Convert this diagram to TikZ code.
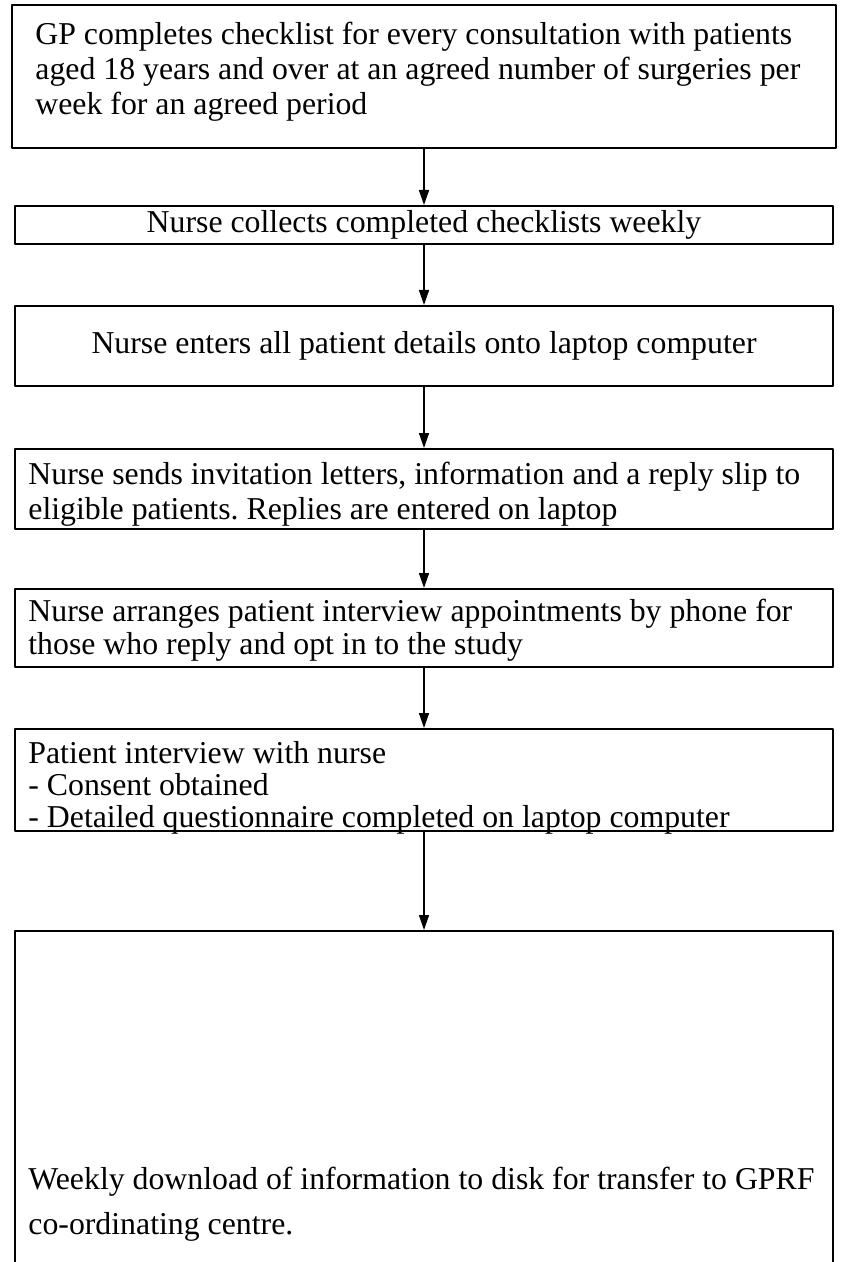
\documentclass[tikz,border=0pt]{standalone}
\usepackage{fontspec}
\setmainfont{Liberation Serif}
\usetikzlibrary{arrows.meta}
\usetikzlibrary{positioning}
\frenchspacing

\tikzset{
  stepbox/.style={draw,rectangle,line width=1pt,minimum width=409pt,inner sep=0pt,
    font=\fontsize{15.9}{17.5}\selectfont},
  steptext/.style={anchor=north west,inner sep=0pt,align=left,
    font=\fontsize{15.9}{17.5}\selectfont},
  flow/.style={->,line width=0.75pt},
}

\begin{document}
\begin{tikzpicture}[line cap=round,line join=round,>={Triangle[length=7.5pt,width=5pt]},x=0.5pt,y=-0.5pt]
\useasboundingbox (0,0) rectangle (845,1262);
\clip (0,0) rectangle (845,1262);
% the boxes
\node[stepbox,anchor=north west,minimum width=412pt,minimum height=71.5pt] (gp) at (11,4) {};
\node[stepbox,minimum height=19pt,below=28pt of gp] (collect)
  {Nurse collects completed checklists weekly};
\node[stepbox,minimum height=40pt,below=30pt of collect] (enter)
  {Nurse enters all patient details onto laptop computer};
\node[stepbox,minimum height=40pt,below=30.5pt of enter] (invite) {};
\node[stepbox,minimum height=39pt,below=29pt of invite] (phone) {};
\node[stepbox,minimum height=51pt,below=30pt of phone] (interview) {};
\node[stepbox,minimum height=272pt,below=49pt of interview] (download) {};
% the texts of the left-aligned boxes
\node[steptext] (gp-text) at ([shift={(12pt,-9pt)}]gp.north west)
  {GP completes checklist for every consultation with patients\\
   aged 18 years and over at an agreed number of surgeries per\\
   week for an agreed period};
\node[steptext] (invite-text) at ([shift={(7pt,-7pt)}]invite.north west)
  {Nurse sends invitation letters, information and a reply slip to\\
   eligible patients. Replies are entered on laptop};
\node[steptext,font=\fontsize{15.9}{16.5}\selectfont] (phone-text) at ([shift={(7pt,-5.5pt)}]phone.north west)
  {Nurse arranges patient interview appointments by phone for\\
   those who reply and opt in to the study};
\node[steptext,font=\fontsize{15.9}{16}\selectfont] (interview-text) at ([shift={(7pt,-6.5pt)}]interview.north west)
  {Patient interview with nurse\\
   - Consent obtained\\
   - Detailed questionnaire completed on laptop computer};
\node[steptext,font=\fontsize{15.9}{22.5}\selectfont] (download-text) at ([shift={(7pt,-118.5pt)}]download.north west)
  {Weekly download of information to disk for transfer to GPRF\\
   co-ordinating centre.};
% arrows between the steps
\draw[flow] (gp) -- (collect);
\draw[flow] (collect) -- (enter);
\draw[flow] (enter) -- (invite);
\draw[flow] (invite) -- (phone);
\draw[flow] (phone) -- (interview);
\draw[flow] (interview) -- (download);
\end{tikzpicture}
\end{document}
